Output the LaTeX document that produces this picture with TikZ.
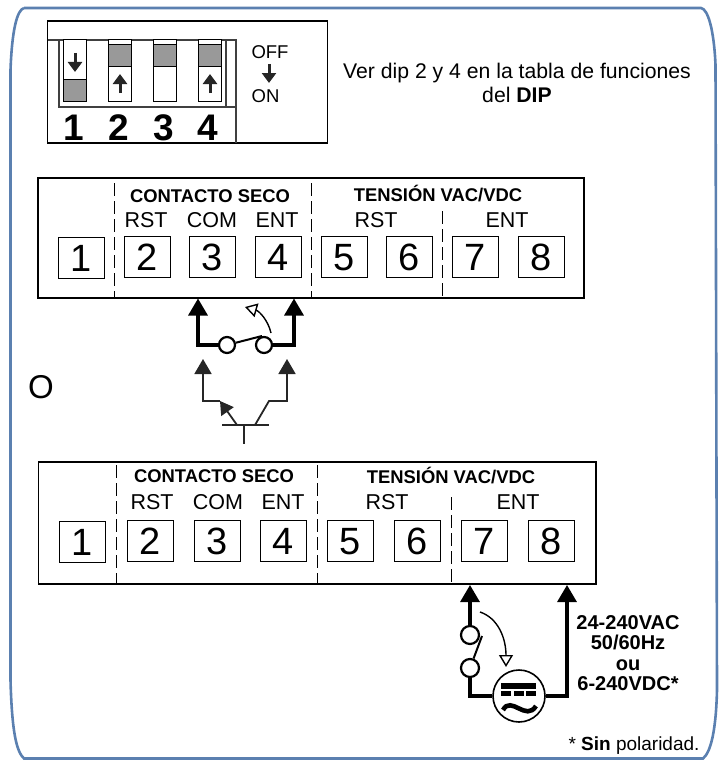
\documentclass[tikz,border=0pt]{standalone}
\usepackage{fontspec}
\setmainfont{Liberation Sans}
\usetikzlibrary{arrows.meta}
\tikzset{
    framebox/.style={draw=black, line width=1.2pt, inner sep=0pt},
    termbox/.style={draw=black, line width=1pt, inner sep=0pt, minimum width=46pt, minimum height=41.5pt, text height=27pt, text depth=0pt, font=\fontsize{38}{38}\selectfont},
    dipslot/.style={draw=black, line width=1pt, fill=white, inner sep=0pt, minimum width=23pt, minimum height=61pt},
    dipgray/.style={draw=black, line width=1pt, fill=black!40, inner sep=0pt, minimum width=23pt},
    dipdigit/.style={inner sep=0pt, text height=26pt, text depth=0pt, font=\fontsize{37}{37}\selectfont\bfseries},
    dipline/.style={draw=black!75, line width=1.2pt},
    titlelabel/.style={inner sep=0pt, font=\fontsize{18.4}{20}\selectfont\bfseries},
    pinlabel/.style={inner sep=0pt, font=\fontsize{21.5}{24}\selectfont},
    textlabel/.style={inner sep=0pt, align=center, font=\fontsize{21.2}{24}\selectfont},
    divider/.style={line width=1pt, dash pattern=on 13pt off 5pt},
    contact/.style={shape=circle, draw=black, line width=2.2pt, fill=white, inner sep=0pt, minimum size=16pt},
    wirethick/.style={draw=black, line width=3.2pt, -{Triangle[length=17pt,width=19pt]}},
    wirethin/.style={draw=black!85, line width=1.8pt, -{Triangle[length=15pt,width=17pt]}},
    dipdir/.style={draw=black!85, line width=3pt, -{Triangle[length=10pt,width=14pt]}},
    swingarrow/.style={draw=black, line width=1.4pt, -{Triangle[open,length=12pt,width=14pt,fill=white]}},
}
\begin{document}
\begin{tikzpicture}[x=1pt, y=-1pt]
    \useasboundingbox (0,0) rectangle (719,760);
    \draw[color={rgb,255:red,91;green,128;blue,176}, line width=2.6pt]
        (24,8) -- (701,8) .. controls (708,9) and (714,30) .. (715.5,65)
        -- (717,690) .. controls (716,730) and (711,752) .. (703,758.5)
        -- (24,758.5) .. controls (17,752) and (12,735) .. (10.5,680)
        -- (10.5,70) .. controls (12,30) and (17,10) .. (24,8);

    % dip switch
    \node[framebox, minimum width=280pt, minimum height=122pt] at (187.5,82) (DipBox) {};
    \coordinate (DipA) at (47.5,40);
    \coordinate (DipB) at (236,40);
    \coordinate (DipC) at (236,143);
    \coordinate (DipD) at (59,40);
    \coordinate (DipE) at (59,107);
    \coordinate (DipF) at (236,107);
    \coordinate (DipG) at (226,40);
    \coordinate (DipH) at (226,107);
    \draw[dipline] (DipA) -- (DipB) -- (DipC);
    \draw[dipline] (DipD) -- (DipE) -- (DipF);
    \draw[dipline] (DipG) -- (DipH);
    \node[dipslot] at (75,70.5) (Slot1) {};
    \node[dipslot] at (120,70.5) (Slot2) {};
    \node[dipslot] at (165,70.5) (Slot3) {};
    \node[dipslot] at (210,70.5) (Slot4) {};
    \node[dipgray, minimum height=22pt] at (75,90) (Gray1) {};
    \node[dipgray, minimum height=22pt] at (120,56) (Gray2) {};
    \node[dipgray, minimum height=22pt] at (165,56) (Gray3) {};
    \node[dipgray, minimum height=22pt] at (210,56) (Gray4) {};
    \coordinate (Top1) at (75,53);
    \coordinate (End1) at (75,72);
    \coordinate (Top2) at (120,93);
    \coordinate (End2) at (120,74);
    \coordinate (Top4) at (210,93);
    \coordinate (End4) at (210,74);
    \draw[dipdir] (Top1) -- (End1);
    \draw[dipdir] (Top2) -- (End2);
    \draw[dipdir] (Top4) -- (End4);
    \coordinate (OffTop) at (269,64);
    \coordinate (OnEnd) at (269,83);
    \draw[dipdir] (OffTop) -- (OnEnd);
    \node[dipdigit] at (74,127) (Num1) {1};
    \node[dipdigit] at (119,127) (Num2) {2};
    \node[dipdigit] at (164,127) (Num3) {3};
    \node[dipdigit] at (208,127) (Num4) {4};
    \node[textlabel, font=\fontsize{18.5}{20}\selectfont] at (270,52) (OffText) {OFF};
    \node[textlabel, font=\fontsize{18.5}{20}\selectfont] at (265.5,96) (OnText) {ON};
    \node[textlabel] at (517,83) (DipNote) {Ver dip 2 y 4 en la tabla de funciones\\del \textbf{DIP}};

    % upper block
    \node[framebox, minimum width=546pt, minimum height=120pt] at (311,238) (BlockA) {};
    \coordinate (DivA1) at (114,183);
    \coordinate (DivA2) at (114,298);
    \coordinate (DivA3) at (311,183);
    \coordinate (DivA4) at (311,298);
    \coordinate (DivA5) at (442,211);
    \coordinate (DivA6) at (442,298);
    \draw[divider] (DivA1) -- (DivA2);
    \draw[divider] (DivA3) -- (DivA4);
    \draw[divider] (DivA5) -- (DivA6);
    \node[titlelabel] at (210,196) (DryA) {CONTACTO SECO};
    \node[titlelabel] at (438,194) (VoltA) {TENSIÓN VAC/VDC};
    \node[pinlabel] at (146,220) (RstA) {RST};
    \node[pinlabel] at (212,220) (ComA) {COM};
    \node[pinlabel] at (277,220) (EntA) {ENT};
    \node[pinlabel] at (376,220) (RstB) {RST};
    \node[pinlabel] at (507,220) (EntB) {ENT};
    \node[termbox] at (81,258) (A1) {1};
    \node[termbox] at (147,257) (A2) {2};
    \node[termbox] at (212.5,257) (A3) {3};
    \node[termbox] at (278,257) (A4) {4};
    \node[termbox] at (344,257) (A5) {5};
    \node[termbox] at (409.5,257) (A6) {6};
    \node[termbox] at (475.5,257) (A7) {7};
    \node[termbox] at (541,257) (A8) {8};

    % dry contact
    \coordinate (TipA) at (198,298.5);
    \coordinate (TipB) at (294,298.5);
    \node[contact] at (227,345) (ContactA) {};
    \node[contact] at (264,345) (ContactB) {};
    \draw[wirethick] (ContactA) -| (TipA);
    \draw[wirethick] (ContactB) -| (TipB);
    \coordinate (BladeEnd) at (262,336);
    \draw[draw=black, line width=2pt] (ContactA) -- (BladeEnd);
    \coordinate (SwingA) at (271,333);
    \coordinate (SwingB) at (245,307);
    \draw[swingarrow] (SwingA) .. controls (268,320) and (259,311) .. (SwingB);

    \node[inner sep=0pt, font=\fontsize{33}{33}\selectfont] at (41,387) (OrText) {O};

    % transistor
    \coordinate (TipC) at (203,359);
    \coordinate (TipD) at (287,359);
    \coordinate (BaseL) at (222,425);
    \coordinate (BaseR) at (269,425);
    \coordinate (BaseM) at (244,425);
    \coordinate (BaseLead) at (244,444);
    \coordinate (EmitA) at (237,425);
    \coordinate (EmitB) at (220,401);
    \coordinate (ElbowC) at (203,401);
    \coordinate (CollA) at (255,425);
    \coordinate (CollB) at (269,401);
    \coordinate (ElbowD) at (287,401);
    \draw[wirethin] (EmitB) -- (ElbowC) -- (TipC);
    \draw[wirethin] (CollA) -- (CollB) -- (ElbowD) -- (TipD);
    \draw[draw=black!85, line width=1.8pt, -{Triangle[length=13pt,width=15pt]}] (EmitA) -- (EmitB);
    \draw[draw=black!85, line width=1.6pt] (BaseL) -- (BaseR);
    \draw[draw=black!85, line width=1.6pt] (BaseM) -- (BaseLead);

    % lower block
    \node[framebox, minimum width=557.5pt, minimum height=122pt] at (317.25,523) (BlockB) {};
    \coordinate (DivB1) at (116,465);
    \coordinate (DivB2) at (116,584);
    \coordinate (DivB3) at (317,465);
    \coordinate (DivB4) at (317,584);
    \coordinate (DivB5) at (451,497);
    \coordinate (DivB6) at (451,584);
    \draw[divider] (DivB1) -- (DivB2);
    \draw[divider] (DivB3) -- (DivB4);
    \draw[divider] (DivB5) -- (DivB6);
    \node[titlelabel] at (214,476) (DryB) {CONTACTO SECO};
    \node[titlelabel] at (451,476) (VoltB) {TENSIÓN VAC/VDC};
    \node[pinlabel] at (152,502) (RstC) {RST};
    \node[pinlabel] at (218,502) (ComB) {COM};
    \node[pinlabel] at (283,502) (EntC) {ENT};
    \node[pinlabel] at (387,502) (RstD) {RST};
    \node[pinlabel] at (518,502) (EntD) {ENT};
    \node[termbox] at (82.5,542) (B1) {1};
    \node[termbox] at (150,541) (B2) {2};
    \node[termbox] at (217,541) (B3) {3};
    \node[termbox] at (283.5,541) (B4) {4};
    \node[termbox] at (350.5,541) (B5) {5};
    \node[termbox] at (417.5,541) (B6) {6};
    \node[termbox] at (484,541) (B7) {7};
    \node[termbox] at (551.5,541) (B8) {8};

    % supply
    \coordinate (TipE) at (470,585);
    \coordinate (TipF) at (567,585);
    \node[contact, minimum size=18pt] at (470,635) (ContactC) {};
    \node[contact, minimum size=18pt] at (470,668) (ContactD) {};
    \node[shape=circle, draw=black, line width=1.6pt, fill=white, inner sep=0pt, minimum size=52pt] at (519,696) (Supply) {};
    \draw[wirethick] (ContactC) -- (TipE);
    \draw[wirethick] (Supply) -| (TipF);
    \draw[draw=black, line width=3.2pt] (ContactD) |- (Supply);
    \coordinate (BladeF) at (482,636);
    \draw[draw=black, line width=2pt] (ContactD) -- (BladeF);
    \coordinate (SwingC) at (480,612);
    \coordinate (SwingD) at (506,667);
    \draw[swingarrow] (SwingC) .. controls (498,618) and (506,638) .. (SwingD);
    \node[fill=black, inner sep=0pt, minimum width=35pt, minimum height=6pt] at (518.5,686) (BarTop) {};
    \node[fill=black, inner sep=0pt, minimum width=10pt, minimum height=5pt] at (506,693.5) (BarA) {};
    \node[fill=black, inner sep=0pt, minimum width=10pt, minimum height=5pt] at (519,693.5) (BarB) {};
    \node[fill=black, inner sep=0pt, minimum width=10pt, minimum height=5pt] at (531,693.5) (BarC) {};
    \coordinate (WaveA) at (503,710);
    \coordinate (WaveB) at (536,706);
    \draw[draw=black, line width=4.6pt] (WaveA) .. controls (511,695) and (526,722) .. (WaveB);
    \node[textlabel, font=\fontsize{20}{20.3}\selectfont\bfseries] at (628,653) (SupplyText) {24-240VAC\\50/60Hz\\ou\\6-240VDC*};
    \node[textlabel, font=\fontsize{19}{20}\selectfont] at (634,746) (FootNote) {* \textbf{Sin} polaridad.};
\end{tikzpicture}
\end{document}
